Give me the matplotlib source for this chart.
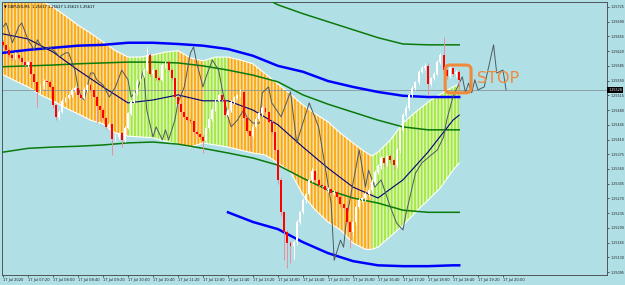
import matplotlib.pyplot as plt
from matplotlib.patches import FancyBboxPatch
import numpy as np

# Grafico GBPUSD M5 - 17 Jul 2020 (velas + bandas + medias)

# Dados das velas (abertura = fechamento anterior)
abertura0 = 1.25642
fechamentos = [
    1.25635, 1.25623, 1.25611, 1.25604, 1.25611, 1.25604, 1.25594, 1.25587, 1.25594, 1.25566,
    1.25547, 1.25523, 1.25537, 1.25549, 1.25547, 1.25535, 1.25492, 1.25464, 1.25475, 1.25502,
    1.25509, 1.25516, 1.25528, 1.25533, 1.25516, 1.25509, 1.25528, 1.25540, 1.25528, 1.25511,
    1.25490, 1.25480, 1.25461, 1.25440, 1.25447, 1.25411, 1.25416, 1.25425, 1.25409, 1.25437,
    1.25473, 1.25499, 1.25521, 1.25547, 1.25563, 1.25575, 1.25611, 1.25566, 1.25575, 1.25556,
    1.25552, 1.25587, 1.25594, 1.25575, 1.25556, 1.25511, 1.25494, 1.25475, 1.25464, 1.25456,
    1.25454, 1.25428, 1.25423, 1.25416, 1.25406, 1.25437, 1.25459, 1.25480, 1.25502, 1.25516,
    1.25504, 1.25468, 1.25480, 1.25499, 1.25509, 1.25516, 1.25523, 1.25461, 1.25430, 1.25418,
    1.25440, 1.25459, 1.25473, 1.25485, 1.25475, 1.25452, 1.25428, 1.25385, 1.25314, 1.25237,
    1.25190, 1.25164, 1.25157, 1.25166, 1.25214, 1.25237, 1.25266, 1.25280, 1.25314, 1.25335,
    1.25314, 1.25302, 1.25299, 1.25290, 1.25292, 1.25283, 1.25285, 1.25273, 1.25256, 1.25247,
    1.25214, 1.25190, 1.25214, 1.25249, 1.25266, 1.25271, 1.25280, 1.25290, 1.25309, 1.25333,
    1.25347, 1.25366, 1.25354, 1.25371, 1.25361, 1.25349, 1.25385, 1.25433, 1.25468, 1.25485,
    1.25516, 1.25533, 1.25547, 1.25571, 1.25580, 1.25585, 1.25542, 1.25556, 1.25566, 1.25594,
    1.25611, 1.25575, 1.25561, 1.25580, 1.25566, 1.25571, 1.25552]
# pavios em pontos (0.00001)
pavio_sup = [
    5, 3, 4, 2, 6, 3, 4, 5, 3, 4, 2, 3, 5, 4, 3, 4, 2, 3, 6, 4,
    3, 5, 4, 3, 2, 4, 6, 3, 4, 3, 5, 2, 4, 3, 4, 2, 6, 3, 4, 5,
    3, 4, 5, 6, 3, 4, 19, 5, 4, 3, 6, 4, 3, 5, 4, 3, 5, 2, 4, 3,
    4, 3, 5, 2, 4, 6, 3, 4, 5, 3, 4, 3, 2, 5, 4, 3, 6, 4, 3, 2,
    4, 5, 3, 4, 6, 3, 4, 3, 5, 4, 3, 6, 4, 3, 5, 4, 6, 3, 4, 8,
    3, 4, 5, 3, 4, 2, 5, 3, 4, 3, 5, 4, 3, 6, 4, 3, 5, 4, 6, 5,
    4, 5, 6, 3, 5, 4, 6, 5, 4, 6, 5, 4, 3, 5, 4, 7, 7, 3, 5, 6,
    4, 43, 5, 4, 3, 5, 4]
pavio_inf = [
    4, 3, 5, 4, 3, 6, 4, 3, 5, 4, 3, 36, 4, 6, 3, 4, 7, 7, 5, 3,
    4, 3, 5, 4, 3, 6, 3, 4, 5, 3, 40, 25, 5, 4, 6, 38, 5, 4, 17, 5,
    3, 4, 2, 5, 3, 4, 3, 6, 4, 5, 3, 4, 6, 3, 4, 5, 6, 4, 5, 3,
    4, 6, 5, 4, 29, 3, 4, 5, 3, 4, 6, 4, 3, 5, 4, 3, 4, 6, 5, 33,
    4, 3, 5, 6, 4, 3, 5, 7, 10, 8, 67, 60, 40, 30, 6, 5, 4, 8, 5, 6,
    4, 6, 5, 3, 5, 4, 6, 5, 7, 6, 5, 38, 10, 6, 5, 4, 6, 5, 4, 6,
    5, 8, 10, 7, 6, 8, 5, 6, 4, 5, 6, 4, 5, 4, 3, 5, 26, 5, 4, 3,
    4, 5, 6, 4, 5, 8, 26]

# Banda hachurada (laranja / verde)
banda_barras = [0, 4, 8, 12, 16, 20, 24, 28, 32, 36, 40, 44, 48, 52, 56, 60, 64, 68, 72, 76,
                80, 84, 88, 92, 96, 100, 104, 108, 112, 116, 118, 120, 124, 128, 132, 136,
                140, 144, 146]
banda_sup = [1.25775, 1.25766, 1.25754, 1.25740, 1.25725, 1.25704, 1.25682, 1.25663, 1.25642,
             1.25621, 1.25606, 1.25606, 1.25611, 1.25618, 1.25621, 1.25604, 1.25597, 1.25606,
             1.25606, 1.25599, 1.25590, 1.25566, 1.25542, 1.25518, 1.25492, 1.25471, 1.25452,
             1.25425, 1.25402, 1.25380, 1.25371, 1.25380, 1.25409, 1.25449, 1.25475, 1.25499,
             1.25518, 1.25535, 1.25542]
banda_inf = [1.25564, 1.25549, 1.25535, 1.25516, 1.25502, 1.25485, 1.25471, 1.25456, 1.25447,
             1.25425, 1.25418, 1.25416, 1.25414, 1.25406, 1.25399, 1.25392, 1.25402, 1.25397,
             1.25392, 1.25385, 1.25378, 1.25373, 1.25354, 1.25333, 1.25278, 1.25242, 1.25214,
             1.25195, 1.25164, 1.25149, 1.25149, 1.25154, 1.25180, 1.25206, 1.25237, 1.25266,
             1.25295, 1.25337, 1.25354]
trechos_verdes = [(40, 56), (64, 72), (118, 146)]

# Linhas (medias e envelopes)
barras_linhas = [0, 8, 16, 24, 32, 40, 48, 56, 64, 72, 80, 88, 96, 104, 112, 120, 128, 136, 144, 146]
azul_sup = [1.25616, 1.25623, 1.25628, 1.25633, 1.25635, 1.25640, 1.25640, 1.25637, 1.25633, 1.25625,
            1.25609, 1.25585, 1.25571, 1.25549, 1.25535, 1.25523, 1.25514, 1.25511, 1.25511, 1.25511]
verde_meio = [1.25583, 1.25585, 1.25587, 1.25590, 1.25592, 1.25594, 1.25594, 1.25592, 1.25585, 1.25575,
              1.25563, 1.25547, 1.25516, 1.25494, 1.25475, 1.25456, 1.25440, 1.25433, 1.25433, 1.25433]
verde_inf = [1.25380, 1.25389, 1.25392, 1.25394, 1.25397, 1.25402, 1.25404, 1.25399, 1.25389, 1.25378,
             1.25366, 1.25349, 1.25318, 1.25290, 1.25271, 1.25259, 1.25242, 1.25237, 1.25237, 1.25237]
media = [1.25661, 1.25649, 1.25618, 1.25575, 1.25535, 1.25497, 1.25504, 1.25516, 1.25502, 1.25502,
         1.25480, 1.25445, 1.25392, 1.25342, 1.25297, 1.25271, 1.25314, 1.25380, 1.25456, 1.25468]
verde_sup_barras = [80, 88, 96, 104, 112, 120, 128, 136, 144, 146]
verde_sup = [1.25761, 1.25730, 1.25709, 1.25690, 1.25671, 1.25652, 1.25637, 1.25635, 1.25635, 1.25635]
azul_inf_barras = [72, 80, 88, 96, 104, 112, 120, 128, 136, 144, 146]
azul_inf = [1.25237, 1.25214, 1.25197, 1.25166, 1.25140, 1.25121, 1.25111, 1.25109, 1.25109, 1.25111, 1.25111]

# Linha cinza (deslocada para frente)
cinza_barras = [0, 1, 2, 3, 5, 6, 8, 10, 11, 13, 15, 17, 18, 20, 21, 23, 24, 25, 26, 28,
                29, 30, 32, 34, 36, 38, 40, 41, 43, 45, 46, 48, 49, 51, 52, 53, 55, 56, 58, 59,
                60, 61, 62, 64, 65, 67, 69, 70, 72, 73, 75, 77, 78, 80, 82, 83, 85, 86, 89, 92,
                94, 98, 101, 105, 106, 108, 109, 110, 114, 116, 117, 119, 121, 124, 126, 128, 129, 130, 132, 134,
                137, 139, 141, 142, 144, 145, 147, 148, 149, 150, 151, 152, 154, 157, 158, 160, 161]
cinza = [1.25678, 1.25687, 1.25663, 1.25640, 1.25678, 1.25687, 1.25647, 1.25623, 1.25647, 1.25623,
         1.25630, 1.25616, 1.25606, 1.25616, 1.25616, 1.25575, 1.25535, 1.25511, 1.25504, 1.25568,
         1.25568, 1.25552, 1.25540, 1.25511, 1.25535, 1.25575, 1.25552, 1.25511, 1.25528, 1.25575,
         1.25480, 1.25416, 1.25440, 1.25409, 1.25433, 1.25409, 1.25456, 1.25497, 1.25535, 1.25575,
         1.25616, 1.25630, 1.25592, 1.25535, 1.25559, 1.25599, 1.25575, 1.25535, 1.25464, 1.25440,
         1.25456, 1.25480, 1.25464, 1.25449, 1.25449, 1.25521, 1.25535, 1.25497, 1.25464, 1.25523,
         1.25402, 1.25497, 1.25440, 1.25259, 1.25123, 1.25171, 1.25154, 1.25226, 1.25385, 1.25297,
         1.25337, 1.25297, 1.25314, 1.25249, 1.25211, 1.25195, 1.25235, 1.25266, 1.25330, 1.25354,
         1.25373, 1.25385, 1.25416, 1.25456, 1.25511, 1.25528, 1.25559, 1.25521, 1.25544, 1.25521,
         1.25552, 1.25528, 1.25535, 1.25635, 1.25568, 1.25575, 1.25528]

preco_atual = 1.25528
titulo = '\u25bc GBPUSD,M5  1.25617 1.25627 1.25613 1.25617'
horarios = ['17 Jul 2020', '17 Jul 07:20', '17 Jul 08:00', '17 Jul 08:40', '17 Jul 09:20',
            '17 Jul 10:00', '17 Jul 10:40', '17 Jul 11:20', '17 Jul 12:00', '17 Jul 12:40',
            '17 Jul 13:20', '17 Jul 14:00', '17 Jul 14:40', '17 Jul 15:20', '17 Jul 16:00',
            '17 Jul 16:40', '17 Jul 17:20', '17 Jul 18:00', '17 Jul 18:40', '17 Jul 19:20',
            '17 Jul 20:00']
precos_eixo = [1.25725, 1.25690, 1.25655, 1.25620, 1.25585, 1.25550, 1.25515, 1.25480, 1.25445,
               1.25410, 1.25375, 1.25340, 1.25305, 1.25270, 1.25235, 1.25200, 1.25165, 1.25130,
               1.25095]
# caixa do STOP (barras, precos)
stop_barras = (141.5, 149.8)
stop_precos = (1.25521, 1.25587)

fundo = '#b0e0e6'
plt.rcParams['hatch.linewidth'] = 1.2

fig = plt.figure(figsize=(6.25, 2.85), dpi=100, facecolor=fundo)
ax = fig.add_axes([2 / 625, 10 / 285, 605 / 625, 273.5 / 285])
ax.set_facecolor(fundo)

# Banda
bb = np.array(banda_barras)
verde = np.zeros(len(bb), dtype=bool)
for a, b in trechos_verdes:
    verde |= (bb >= a) & (bb <= b)
laranja = ~verde
for a, b in trechos_verdes:
    laranja |= (bb == a) | (bb == b)
ax.fill_between(bb, banda_inf, banda_sup, where=laranja, facecolor='#f3dfae',
                edgecolor='#ffa500', hatch='|||||', linewidth=0, zorder=1)
ax.fill_between(bb, banda_inf, banda_sup, where=verde, facecolor='#dcf3b8',
                edgecolor='#9ee838', hatch='|||||', linewidth=0, zorder=1)
ax.plot(bb, banda_sup, color='white', lw=0.8, zorder=2)
ax.plot(bb, banda_inf, color='white', lw=0.8, zorder=2)

# Linhas
ax.axhline(preco_atual, color='#8a9699', lw=0.6, zorder=2)
ax.plot(barras_linhas, verde_meio, color='#0a7a0a', lw=1.1, zorder=3)
ax.plot(barras_linhas, verde_inf, color='#0a7a0a', lw=1.1, zorder=3)
ax.plot(verde_sup_barras, verde_sup, color='#0a7a0a', lw=1.1, zorder=3)
ax.plot(barras_linhas, azul_sup, color='#0000ff', lw=1.8, zorder=3)
ax.plot(azul_inf_barras, azul_inf, color='#0000ff', lw=1.8, zorder=3)
ax.plot(barras_linhas, media, color='#00007a', lw=0.8, zorder=3)
ax.plot(cinza_barras, cinza, color='#4d5a60', lw=0.7, zorder=4)

# Velas
fech = np.array(fechamentos)
abert = np.concatenate([[abertura0], fech[:-1]])
x = np.arange(len(fech))
alta = fech >= abert
maxima = np.maximum(abert, fech) + np.array(pavio_sup) * 0.00001
minima = np.minimum(abert, fech) - np.array(pavio_inf) * 0.00001
cor_pavio = np.where(alta, '#ffffff', '#e8909a')
cor_corpo = np.where(alta, '#ffffff', '#ff0000')
ax.vlines(x, minima, maxima, colors=cor_pavio, lw=0.7, zorder=5)
altura = np.maximum(np.abs(fech - abert), 0.00001)
ax.bar(x, altura, bottom=np.minimum(abert, fech), width=0.62, color=cor_corpo,
       linewidth=0, zorder=6)

# STOP
laranja_txt = '#f08a3a'
caixa = FancyBboxPatch((stop_barras[0], stop_precos[0]), stop_barras[1] - stop_barras[0],
                       stop_precos[1] - stop_precos[0], boxstyle='round,pad=0,rounding_size=1.6',
                       mutation_aspect=0.0000238 / 0.32, fill=False, edgecolor=laranja_txt,
                       lw=2.2, zorder=7)
ax.add_patch(caixa)
ax.text(stop_barras[1] + 2, (stop_precos[0] + stop_precos[1]) / 2, 'STOP', color=laranja_txt,
        fontsize=11.5, va='center', ha='left', zorder=7)

# Titulo do grafico
ax.text(0.004, 0.99, titulo, transform=ax.transAxes, fontsize=2.6, va='top', ha='left',
        color='black', zorder=8)

# Eixos
ax.set_xlim(-0.32, 193.3)
ax.set_ylim(1.25088, 1.25738)
ax.yaxis.tick_right()
ax.set_yticks(precos_eixo, ['%.5f' % p for p in precos_eixo])
ax.set_xticks(np.arange(0, 8 * len(horarios), 8), horarios, ha='left')
ax.tick_params(axis='y', labelsize=2.4, length=1.5, width=0.5, pad=1.2, colors='#202020')
ax.tick_params(axis='x', labelsize=2.6, length=1.5, width=0.5, pad=1.0, colors='#202020')
for s in ax.spines.values():
    s.set_color('#505558')
    s.set_linewidth(0.7)

# Preco atual no eixo
ax.text(1.002, preco_atual, '%.5f' % preco_atual, transform=ax.get_yaxis_transform(),
        fontsize=2.4, color='white', va='center', ha='left', zorder=9,
        bbox=dict(boxstyle='square,pad=0.25', facecolor='black', edgecolor='none'))

plt.savefig('out.png', dpi=100, facecolor=fundo)
